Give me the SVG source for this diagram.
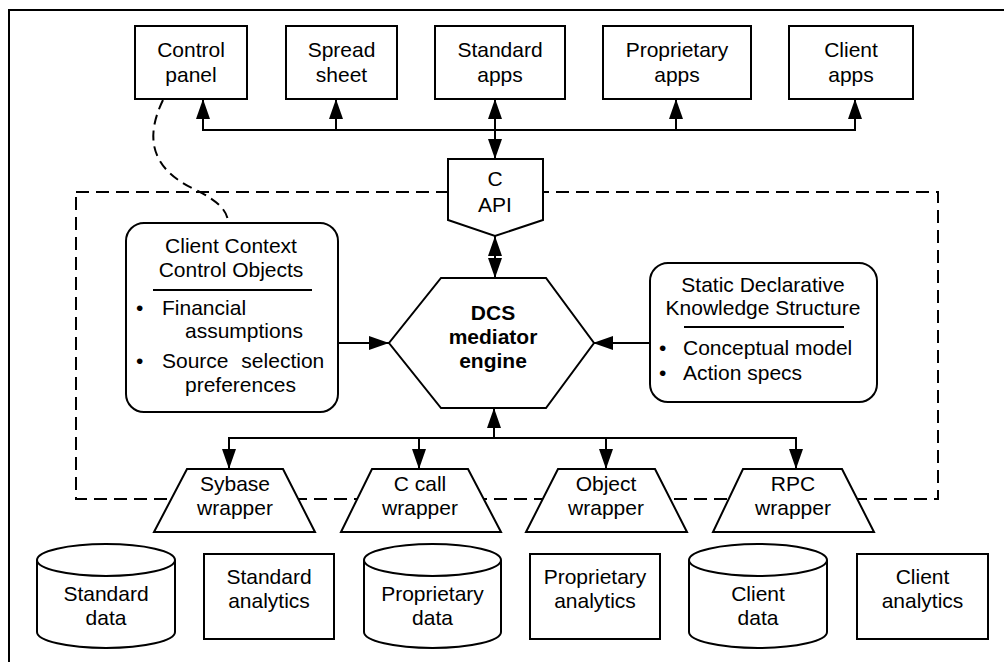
<svg xmlns="http://www.w3.org/2000/svg" width="1004" height="662" viewBox="0 0 1004 662">
<style>
text{font-family:"Liberation Sans",Arial,Helvetica,sans-serif;font-size:21px;fill:#000}
.c{text-anchor:middle}
.b{font-weight:bold}
.shape{fill:#fff;stroke:#000;stroke-width:2}
.ln{fill:none;stroke:#000;stroke-width:2}
.dash{fill:none;stroke:#000;stroke-width:2;stroke-dasharray:13 7}
</style>
<defs>
<marker id="ah" markerUnits="userSpaceOnUse" markerWidth="20" markerHeight="14" refX="20" refY="7" orient="auto-start-reverse" viewBox="0 0 20 14">
<path d="M0,0 L20,7 L0,14 Z" fill="#000"/>
</marker>
</defs>
<rect width="1004" height="662" fill="#fff"/>
<path id="frame" class="ln" d="M9,662 V10 H1004"/>

<path id="mediator-boundary" class="dash" d="M76,192 H938 V499 H76 Z"/>

<g id="connectors">
<path class="dash" style="stroke-dasharray:10 6" d="M163,100 C146,135 148,168 196,190 C220,202 228,212 228,223"/>
<path class="ln" d="M203,99 V130 H855 V99" marker-start="url(#ah)" marker-end="url(#ah)"/>
<path class="ln" d="M336,130 V99" marker-end="url(#ah)"/>
<path class="ln" d="M676,130 V99" marker-end="url(#ah)"/>
<path class="ln" d="M495,130 V99" marker-end="url(#ah)"/>
<path class="ln" d="M495,130 V159" marker-end="url(#ah)"/>
<path class="ln" d="M495,236 V278" marker-start="url(#ah)" marker-end="url(#ah)"/>
<path class="ln" d="M338,343 H389" marker-end="url(#ah)"/>
<path class="ln" d="M650,343 H593" marker-end="url(#ah)"/>
<path class="ln" d="M494,438 V408" marker-end="url(#ah)"/>
<path class="ln" d="M229,469 V438 H796 V469" marker-start="url(#ah)" marker-end="url(#ah)"/>
<path class="ln" d="M419,438 V469" marker-end="url(#ah)"/>
<path class="ln" d="M606,438 V469" marker-end="url(#ah)"/>
</g>

<g id="control-panel">
<rect class="shape" x="135" y="26" width="112" height="73"/>
<text class="c" x="191" y="57">Control</text>
<text class="c" x="191" y="82">panel</text>
</g>
<g id="spread-sheet">
<rect class="shape" x="286" y="26" width="111" height="73"/>
<text class="c" x="341.5" y="57">Spread</text>
<text class="c" x="341.5" y="82">sheet</text>
</g>
<g id="standard-apps">
<rect class="shape" x="435" y="26" width="130" height="73"/>
<text class="c" x="500" y="57">Standard</text>
<text class="c" x="500" y="82">apps</text>
</g>
<g id="proprietary-apps">
<rect class="shape" x="603" y="26" width="148" height="73"/>
<text class="c" x="677" y="57">Proprietary</text>
<text class="c" x="677" y="82">apps</text>
</g>
<g id="client-apps">
<rect class="shape" x="789" y="26" width="124" height="73"/>
<text class="c" x="851" y="57">Client</text>
<text class="c" x="851" y="82">apps</text>
</g>

<g id="c-api">
<path class="shape" d="M448,159 H543 V220 L495,236 L448,220 Z"/>
<text class="c" x="495" y="186">C</text>
<text class="c" x="495" y="212">API</text>
</g>

<g id="client-context">
<rect class="shape" x="126" y="223" width="212" height="189" rx="18" ry="18"/>
<text class="c" x="231" y="253">Client Context</text>
<text class="c" x="231" y="277">Control Objects</text>
<line class="ln" x1="153" y1="290" x2="312" y2="290"/>
<text x="136" y="315">•</text>
<text x="162" y="315">Financial</text>
<text x="185" y="338">assumptions</text>
<text x="136" y="368">•</text>
<text x="162" y="368" style="word-spacing:7px">Source selection</text>
<text x="185" y="392">preferences</text>
</g>

<g id="dcs-engine">
<path class="shape" d="M441,278 H546 L594,343 L546,408 H441 L389,343 Z"/>
<text class="c b" x="493" y="320">DCS</text>
<text class="c b" x="493" y="344">mediator</text>
<text class="c b" x="493" y="368">engine</text>
</g>

<g id="static-knowledge">
<rect class="shape" x="650" y="263" width="227" height="139" rx="18" ry="18"/>
<text class="c" x="763" y="292">Static Declarative</text>
<text class="c" x="763" y="315">Knowledge Structure</text>
<line class="ln" x1="684" y1="327" x2="844" y2="327"/>
<text x="659" y="355">•</text>
<text x="683" y="355">Conceptual model</text>
<text x="659" y="380">•</text>
<text x="683" y="380">Action specs</text>
</g>

<g id="sybase-wrapper">
<path class="shape" d="M187,469 H283 L315,532 H154 Z"/>
<text class="c" x="235" y="491">Sybase</text>
<text class="c" x="235" y="515">wrapper</text>
</g>
<g id="c-call-wrapper">
<path class="shape" d="M372,469 H468 L501,532 H341 Z"/>
<text class="c" x="420" y="491">C call</text>
<text class="c" x="420" y="515">wrapper</text>
</g>
<g id="object-wrapper">
<path class="shape" d="M558,469 H655 L687,532 H526 Z"/>
<text class="c" x="606" y="491">Object</text>
<text class="c" x="606" y="515">wrapper</text>
</g>
<g id="rpc-wrapper">
<path class="shape" d="M743,469 H842 L874,532 H713 Z"/>
<text class="c" x="793" y="491">RPC</text>
<text class="c" x="793" y="515">wrapper</text>
</g>

<g id="standard-data">
<path class="shape" d="M37,560 V632 A69,16 0 0 0 175,632 V560"/>
<ellipse class="shape" cx="106" cy="560" rx="69" ry="16"/>
<text class="c" x="106" y="601">Standard</text>
<text class="c" x="106" y="625">data</text>
</g>
<g id="standard-analytics">
<rect class="shape" x="204" y="554" width="130" height="85"/>
<text class="c" x="269" y="584">Standard</text>
<text class="c" x="269" y="608">analytics</text>
</g>
<g id="proprietary-data">
<path class="shape" d="M364,560 V632 A68.5,16 0 0 0 501,632 V560"/>
<ellipse class="shape" cx="432.5" cy="560" rx="68.5" ry="16"/>
<text class="c" x="432.5" y="601">Proprietary</text>
<text class="c" x="432.5" y="625">data</text>
</g>
<g id="proprietary-analytics">
<rect class="shape" x="530" y="554" width="130" height="85"/>
<text class="c" x="595" y="584">Proprietary</text>
<text class="c" x="595" y="608">analytics</text>
</g>
<g id="client-data">
<path class="shape" d="M689,560 V632 A69,16 0 0 0 827,632 V560"/>
<ellipse class="shape" cx="758" cy="560" rx="69" ry="16"/>
<text class="c" x="758" y="601">Client</text>
<text class="c" x="758" y="625">data</text>
</g>
<g id="client-analytics">
<rect class="shape" x="857" y="554" width="131" height="85"/>
<text class="c" x="922.5" y="584">Client</text>
<text class="c" x="922.5" y="608">analytics</text>
</g>
</svg>
